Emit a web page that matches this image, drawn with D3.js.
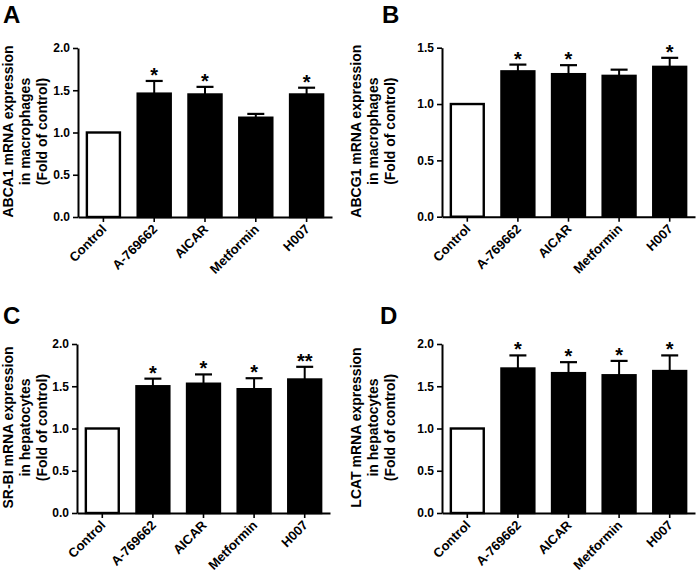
<!DOCTYPE html>
<html>
<head>
<meta charset="utf-8">
<script src="https://cdn.jsdelivr.net/npm/d3@7"></script>
<style>
  html, body { margin: 0; padding: 0; background: #fff; }
  svg { display: block; }
  text { font-family: "Liberation Sans", Arial, sans-serif; font-weight: bold; fill: #000; }
</style>
</head>
<body>
<svg id="chart" width="697" height="572"></svg>
<script>
// ---- data ----
const categories = ["Control", "A-769662", "AICAR", "Metformin", "H007"];

const abca1Mean = [1.00, 1.46, 1.45, 1.175, 1.45];
const abca1Err  = [0.00, 0.15, 0.09, 0.045, 0.08];
const abca1Sig  = ["", "*", "*", "", "*"];

const abcg1Mean = [1.00, 1.29, 1.265, 1.25, 1.33];
const abcg1Err  = [0.00, 0.06, 0.08, 0.055, 0.08];
const abcg1Sig  = ["", "*", "*", "", "*"];

const srbiMean = [1.00, 1.50, 1.53, 1.465, 1.58];
const srbiErr  = [0.00, 0.09, 0.11, 0.13, 0.15];
const srbiSig  = ["", "*", "*", "*", "**"];

const lcatMean = [1.00, 1.71, 1.655, 1.63, 1.68];
const lcatErr  = [0.00, 0.155, 0.13, 0.17, 0.185];
const lcatSig  = ["", "*", "*", "*", "*"];

const ticks2 = [0, 0.5, 1.0, 1.5, 2.0];
const ticks15 = [0, 0.5, 1.0, 1.5];

const titlesA = ["ABCA1 mRNA expression", "in macrophages", "(Fold of control)"];
const titlesB = ["ABCG1 mRNA expression", "in macrophages", "(Fold of control)"];
const titlesC = ["SR-BI mRNA expression", "in hepatocytes", "(Fold of control)"];
const titlesD = ["LCAT mRNA expression", "in hepatocytes", "(Fold of control)"];

const panelLetters = ["A", "B", "C", "D"];

// ---- layout ----
const panels = [
  { letter: panelLetters[0], mean: abca1Mean, err: abca1Err, sig: abca1Sig, ticks: ticks2, ymax: 2.0, title: titlesA,
    ox: 0, left: 78, right: 332, top: 48, bottom: 217, lx: 3, ly: 22.7 },
  { letter: panelLetters[1], mean: abcg1Mean, err: abcg1Err, sig: abcg1Sig, ticks: ticks15, ymax: 1.5, title: titlesB,
    ox: 348, left: 442, right: 695, top: 47.7, bottom: 216.7, lx: 382, ly: 22.7 },
  { letter: panelLetters[2], mean: srbiMean, err: srbiErr, sig: srbiSig, ticks: ticks2, ymax: 2.0, title: titlesC,
    ox: 0, left: 77, right: 330, top: 344, bottom: 513, lx: 3, ly: 324 },
  { letter: panelLetters[3], mean: lcatMean, err: lcatErr, sig: lcatSig, ticks: ticks2, ymax: 2.0, title: titlesD,
    ox: 348, left: 442, right: 695, top: 344, bottom: 513, lx: 380, ly: 324 }
];

const svg = d3.select("#chart");

panels.forEach(p => {
  const g = svg.append("g");
  const x = d3.scaleBand().domain(categories).range([p.left, p.right])
    .paddingInner(0.31).paddingOuter(0.155);
  const y = d3.scaleLinear().domain([0, p.ymax]).range([p.bottom, p.top]);

  const rows = categories.map((c, i) => ({ c, m: p.mean[i], e: p.err[i], s: p.sig[i], i }));

  // bars
  g.selectAll("rect.bar").data(rows).enter().append("rect")
    .attr("class", "bar")
    .attr("x", d => x(d.c) + 1)
    .attr("width", x.bandwidth() - 2)
    .attr("y", d => y(d.m))
    .attr("height", d => y(0) - y(d.m))
    .attr("fill", d => d.i === 0 ? "#fff" : "#000")
    .attr("stroke", "#000")
    .attr("stroke-width", 2.4);

  // error bars (upper only)
  const eb = rows.filter(d => d.e > 0);
  const capW = 17;
  g.selectAll("line.whisk").data(eb).enter().append("line")
    .attr("x1", d => x(d.c) + x.bandwidth() / 2)
    .attr("x2", d => x(d.c) + x.bandwidth() / 2)
    .attr("y1", d => y(d.m))
    .attr("y2", d => y(d.m + d.e))
    .attr("stroke", "#000").attr("stroke-width", 2);
  g.selectAll("line.cap").data(eb).enter().append("line")
    .attr("x1", d => x(d.c) + x.bandwidth() / 2 - capW / 2)
    .attr("x2", d => x(d.c) + x.bandwidth() / 2 + capW / 2)
    .attr("y1", d => y(d.m + d.e))
    .attr("y2", d => y(d.m + d.e))
    .attr("stroke", "#000").attr("stroke-width", 2.2);

  // significance stars
  g.selectAll("text.sig").data(rows.filter(d => d.s)).enter().append("text")
    .attr("x", d => x(d.c) + x.bandwidth() / 2)
    .attr("y", d => y(d.m + d.e) + 1)
    .attr("text-anchor", "middle")
    .style("font-size", "20px")
    .text(d => d.s);

  // y axis
  const yAxis = d3.axisLeft(y).tickValues(p.ticks).tickFormat(d3.format(".1f"))
    .tickSize(5).tickSizeOuter(0).tickPadding(3);
  const ya = g.append("g").attr("transform", `translate(${p.left},0)`).call(yAxis);
  ya.select(".domain").attr("stroke-width", 2);
  ya.selectAll(".tick line").attr("stroke-width", 1.6);
  ya.selectAll(".tick text").style("font-size", "12px")
    .style("font-family", "'Liberation Sans', Arial, sans-serif").style("font-weight", "bold");

  // x axis
  const xAxis = d3.axisBottom(x).tickSize(5).tickSizeOuter(0).tickFormat("");
  const xa = g.append("g").attr("transform", `translate(0,${p.bottom})`).call(xAxis);
  xa.select(".domain").attr("stroke-width", 2);
  xa.selectAll(".tick line").attr("stroke-width", 1.6);

  g.selectAll("text.xl").data(categories).enter().append("text")
    .attr("class", "xl")
    .attr("transform", d => `translate(${x(d) + x.bandwidth() / 2 + 4},${p.bottom + 13}) rotate(-45)`)
    .attr("text-anchor", "end")
    .style("font-size", "13px")
    .text(d => d);

  // y title
  const cy = (p.top + p.bottom) / 2 - 1;
  p.title.forEach((t, k) => {
    const tx = p.ox + 13 + k * 17;
    g.append("text")
      .attr("transform", `translate(${tx},${cy}) rotate(-90)`)
      .attr("text-anchor", "middle")
      .style("font-size", "14px")
      .text(t);
  });

  // panel letter
  g.append("text").attr("x", p.lx).attr("y", p.ly)
    .style("font-size", "24px").text(p.letter);
});
</script>
</body>
</html>
